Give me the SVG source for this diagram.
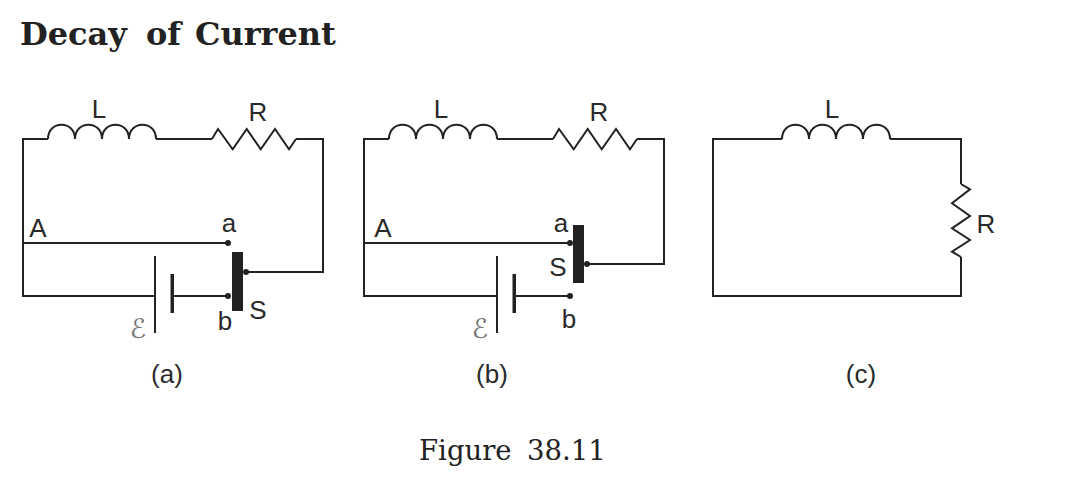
<svg xmlns="http://www.w3.org/2000/svg" width="1080" height="488" viewBox="0 0 1080 488">
<style>
.w{fill:none;stroke:#222;stroke-width:2;stroke-linejoin:miter}
.t{font-family:"Liberation Sans",Arial,sans-serif;font-size:26px;fill:#2a2a2a;text-anchor:middle}
.e{font-family:"DejaVu Sans",sans-serif;font-size:27px;font-style:italic;fill:#777;text-anchor:middle}
.k{fill:#222}
</style>
<defs>
<path id="coil" class="w" d="M0 0c0 -19 27 -19 27 0c0 -19 27 -19 27 0c0 -19 27 -19 27 0c0 -19 27 -19 27 0"/>
<path id="res" class="w" d="M0 0L6 -10L20.700 10.300L34.700 -10L48.700 10.300L63 -10L77 10.300L84 0"/>
</defs>
<rect width="1080" height="488" fill="#fff"/>
<text id="title" y="45" font-family="'DejaVu Serif',serif" font-weight="700" font-size="32px" fill="#222"><tspan x="20">Decay </tspan><tspan x="146">of </tspan><tspan x="195">Current</tspan></text>
<g id="connectors">
<path class="w" d="M48 139H23V296H155M23 243H228M156 139H212M296 139H323V272H246M172 296H228"/>
<path class="w" d="M389 139H364V296H497M364 243H570M497 139H553M637 139H664V264H587M514 296H570"/>
<path class="w" d="M782 139H713V296H961V257M890 139H961V184"/>
</g>
<g id="circuit-a">
<use href="#coil" x="48" y="139"/><use href="#res" x="212" y="139"/>
<rect class="k" x="154" y="256" width="2" height="77"/><rect class="k" x="170.500" y="274" width="3.500" height="39"/>
<rect class="k" x="232" y="252" width="11" height="59"/>
<circle class="k" cx="228" cy="243" r="3"/><circle class="k" cx="228" cy="296" r="3"/><circle class="k" cx="246" cy="272" r="3"/>
<text class="t" x="99" y="118">L</text><text class="t" x="258" y="121">R</text><text class="t" x="38" y="237">A</text>
<text class="t" x="229" y="232">a</text><text class="t" x="225" y="330">b</text><text class="t" x="258" y="319">S</text>
<text class="e" x="138" y="338">ℰ</text><text class="t" x="167" y="383">(a)</text>
</g>
<g id="circuit-b">
<use href="#coil" x="389" y="139"/><use href="#res" x="553" y="139"/>
<rect class="k" x="496" y="256" width="2" height="77"/><rect class="k" x="512.500" y="274" width="3.500" height="39"/>
<rect class="k" x="573" y="225" width="11" height="58"/>
<circle class="k" cx="570" cy="243" r="3"/><circle class="k" cx="570" cy="296" r="3"/><circle class="k" cx="587" cy="264" r="3"/>
<text class="t" x="441" y="118">L</text><text class="t" x="599" y="121">R</text><text class="t" x="383" y="237">A</text>
<text class="t" x="561" y="232">a</text><text class="t" x="558" y="276">S</text><text class="t" x="569" y="328">b</text>
<text class="e" x="480" y="338">ℰ</text><text class="t" x="492" y="383">(b)</text>
</g>
<g id="circuit-c">
<use href="#coil" x="782" y="139"/>
<path class="w" d="M961 184L970 189.300L952 203.300L970 216L952 228.300L970 240L952 251.700L961 257"/>
<text class="t" x="832" y="118">L</text><text class="t" x="986" y="233">R</text><text class="t" x="861" y="383">(c)</text>
</g>
<text id="figure" y="460" font-family="'DejaVu Serif',serif" font-size="27.500px" fill="#222"><tspan x="419">Figure </tspan><tspan x="527">38.11</tspan></text>
</svg>
